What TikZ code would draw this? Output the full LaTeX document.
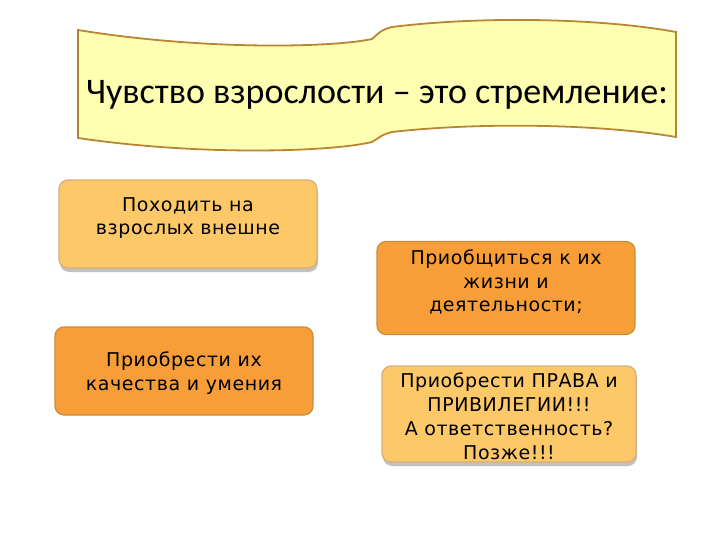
\documentclass[tikz,border=0pt]{standalone}
\usepackage{fontspec}
\setmainfont{DejaVu Sans}[LetterSpace=3]
\newfontfamily\titlefont{Carlito}
\usetikzlibrary{shadows}
\definecolor{bannerfill}{RGB}{255,255,178}
\definecolor{bannerdraw}{RGB}{184,134,50}
\definecolor{lightor}{RGB}{253,200,104}
\definecolor{darkor}{RGB}{248,158,56}
\definecolor{boxdraw}{RGB}{200,140,60}
\definecolor{lightdraw}{RGB}{215,175,120}
\tikzset{
  box/.style={line width=1.2pt, rounded corners=9pt, minimum width=258pt, inner sep=0pt},
  lightbox/.style={box, draw=lightdraw, fill=lightor, drop shadow={shadow xshift=1pt, shadow yshift=-4pt, fill=gray!60, opacity=0.8}},
  darkbox/.style={box, draw=boxdraw, fill=darkor},
  boxtext/.style={align=center, font=\fontsize{19}{23.5}\selectfont, inner sep=0pt},
}
\begin{document}
\begin{tikzpicture}[x=1pt,y=-1pt]
\useasboundingbox (0,0) rectangle (720,540);
% banner
\draw[fill=bannerfill, draw=bannerdraw, line width=1.8pt]
  (78,30) .. controls (200,50) and (330,48) .. (372,39)
  .. controls (378,34) and (380,30) .. (392,27)
  .. controls (480,16) and (600,18) .. (676,32)
  -- (676,137)
  .. controls (600,124) and (480,122) .. (392,132)
  .. controls (380,135) and (378,139) .. (372,142)
  .. controls (330,152) and (200,156) .. (78,138) -- cycle;
\node[font=\titlefont\fontsize{36}{40}\selectfont, inner sep=0pt] (title) at (377,95) {Чувство взрослости – это стремление:};
% boxes
\node[lightbox, minimum height=88pt] (b1) at (188,224) {};
\node[boxtext, anchor=north] (t1) at (188,197) {Походить на\\взрослых внешне};
\node[darkbox, minimum height=93pt] (b2) at (506,288) {};
\node[boxtext, anchor=north] (t2) at (506,250) {Приобщиться к их\\жизни и\\деятельности;};
\node[darkbox, minimum height=88pt] (b3) at (184,371) {};
\node[boxtext] (t3) at (184,373) {Приобрести их\\качества и умения};
\node[lightbox, minimum height=96pt, minimum width=254pt] (b4) at (509,414) {};
\node[boxtext, font=\fontsize{19}{24}\selectfont] (t4) at (509,416) {Приобрести ПРАВА и\\ПРИВИЛЕГИИ!!!\\ А ответственность?\\Позже!!!};
\end{tikzpicture}
\end{document}
